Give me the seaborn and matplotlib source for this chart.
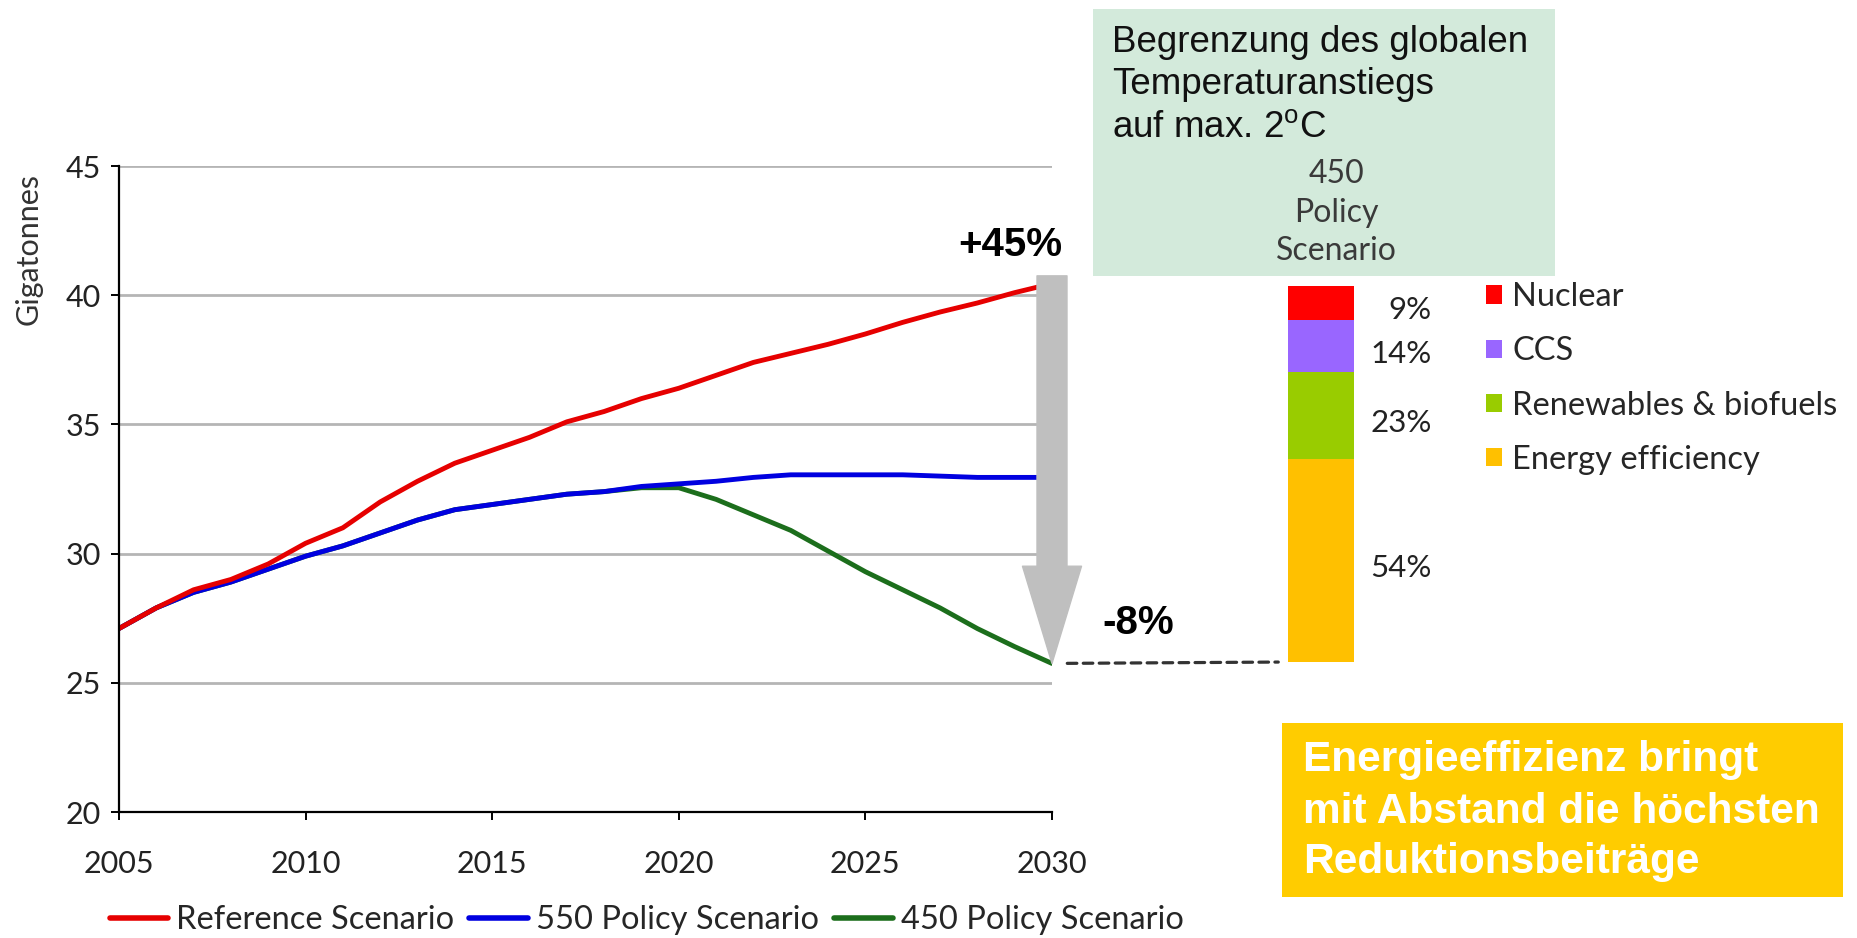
import matplotlib
matplotlib.use("Agg")
import matplotlib.pyplot as plt
from matplotlib.patches import Rectangle, FancyArrowPatch, ConnectionPatch, Patch
import seaborn as sns

# data (Gt CO2)
years = list(range(2005, 2031))
reference = [27.1, 27.9, 28.6, 29.0, 29.6, 30.4, 31.0, 32.0, 32.8, 33.5, 34.0, 34.5, 35.1,
             35.5, 36.0, 36.4, 36.9, 37.4, 37.75, 38.1, 38.5, 38.95, 39.35, 39.7, 40.1, 40.45]
policy_550 = [27.1, 27.9, 28.5, 28.9, 29.4, 29.9, 30.3, 30.8, 31.3, 31.7, 31.9, 32.1, 32.3,
              32.4, 32.6, 32.7, 32.8, 32.95, 33.05, 33.05, 33.05, 33.05, 33.0, 32.95, 32.95, 32.95]
policy_450 = [27.1, 27.9, 28.5, 28.9, 29.4, 29.9, 30.3, 30.8, 31.3, 31.7, 31.9, 32.1, 32.3,
              32.4, 32.55, 32.55, 32.1, 31.5, 30.9, 30.1, 29.3, 28.6, 27.9, 27.1, 26.4, 25.75]
series_names = ["Reference Scenario", "550 Policy Scenario", "450 Policy Scenario"]
series_colors = ["#e60000", "#0000e0", "#1c6e1c"]

# abatement shares in the 450 scenario (bottom -> top)
wedge_names = ["Energy efficiency", "Renewables & biofuels", "CCS", "Nuclear"]
wedge_shares = [54, 23, 14, 9]
wedge_colors = ["#ffc000", "#99cc00", "#9966ff", "#ff0000"]

sns.set_theme(style="white")
plt.rcParams["font.family"] = ["Lato", "DejaVu Sans"]
plt.rcParams["mathtext.fontset"] = "custom"
plt.rcParams["mathtext.rm"] = "Liberation Sans"

fig = plt.figure(figsize=(18.58, 9.38), dpi=100)
ax = fig.add_axes([0.0640, 0.1343, 0.5022, 0.6887])

# 450 first, then 550 on top, reference on top of all
sns.lineplot(x=years, y=policy_450, color=series_colors[2], lw=3.5, label=series_names[2], ax=ax)
sns.lineplot(x=years, y=policy_550, color=series_colors[1], lw=3.5, label=series_names[1], ax=ax)
sns.lineplot(x=years, y=reference, color=series_colors[0], lw=3.5, label=series_names[0], ax=ax)

ax.set_xlim(2005, 2030)
ax.set_ylim(20, 45)
ax.set_xticks(range(2005, 2031, 5))
ax.set_yticks(range(20, 46, 5))
ax.grid(axis="y", color="#b5b5b5", lw=2)
ax.grid(axis="x", visible=False)
for side in ["top", "right"]:
    ax.spines[side].set_visible(False)
for side in ["left", "bottom"]:
    ax.spines[side].set_color("black")
    ax.spines[side].set_linewidth(1.6)
ax.tick_params(axis="y", direction="out", length=6, width=1.4, pad=7, labelsize=22,
               left=True, colors="black", labelcolor="#222222")
ax.tick_params(axis="x", direction="out", length=6, width=1.4, pad=21, labelsize=22,
               bottom=True, colors="black", labelcolor="#222222")
ax.set_xlabel("")
ax.set_ylabel("Gigatonnes", fontsize=22, color="#333333")
ax.yaxis.set_label_coords(-0.082, 0.871)

handles, labels = ax.get_legend_handles_labels()
order = [labels.index(n) for n in series_names]
ax.legend([handles[i] for i in order], [labels[i] for i in order],
          loc="center", bbox_to_anchor=(0.348, 0.019), bbox_transform=fig.transFigure,
          ncol=3, frameon=False, fontsize=23.5, handlelength=1.8, handletextpad=0.25,
          columnspacing=0.45, borderaxespad=0)
for ln in ax.get_legend().get_lines():
    ln.set_linewidth(4)

# stacked bar of the reductions
ax2 = fig.add_axes([1288 / 1858, (938 - 662) / 938, 66 / 1858, 376 / 938])
bottom = 0
for name, share, col in zip(wedge_names, wedge_shares, wedge_colors):
    ax2.bar(0, share, bottom=bottom, width=1.0, color=col, edgecolor="none")
    ax2.text(2.18, bottom + share / 2 - 2, f"{share}%", transform=ax2.get_yaxis_transform(),
             ha="right", va="center", fontsize=22.5, color="#222222")
    bottom += share
ax2.set_xlim(-0.5, 0.5)
ax2.set_ylim(0, sum(wedge_shares))
ax2.axis("off")

leg_handles = [Patch(facecolor=c, edgecolor="none") for c in wedge_colors][::-1]
ax2.legend(leg_handles, wedge_names[::-1], loc="upper left", bbox_to_anchor=(3.0, 1.01),
           frameon=False, fontsize=23.5, handlelength=0.5, handleheight=0.5,
           handletextpad=0.3, labelspacing=0.74, borderpad=0, borderaxespad=0)

# big gray arrow from reference to 450 scenario in 2030
arrow = FancyArrowPatch((2030, reference[-1] + 0.3), (2030, policy_450[-1]),
                        arrowstyle="simple,head_length=70,head_width=42.5,tail_width=21.6",
                        mutation_scale=1, color="#bfbfbf", shrinkA=0, shrinkB=0,
                        transform=ax.transData, clip_on=False, zorder=5)
ax.add_patch(arrow)

# dashed connector to the bar
con = ConnectionPatch(xyA=(2030, policy_450[-1]), coordsA=ax.transData,
                      xyB=(-0.5, 0), coordsB=ax2.transData,
                      linestyle=(0, (3, 2)), lw=2.3, color="#333333",
                      shrinkA=11, shrinkB=7)
fig.add_artist(con)

fig.text(0.5436, 0.7388, "+45%", fontsize=29, fontweight="bold", family="Liberation Sans",
         ha="center", va="center", color="black")
fig.text(0.6125, 0.3358, "-8%", fontsize=29, fontweight="bold", family="Liberation Sans",
         ha="center", va="center", color="black")

# green box
fig.add_artist(Rectangle((1093 / 1858, (938 - 276) / 938), 462 / 1858, 267 / 938,
                         transform=fig.transFigure, facecolor="#d3eadb", edgecolor="none",
                         zorder=0))
for txt, yy in [("Begrenzung des globalen", 0.9542), ("Temperaturanstiegs", 0.9094),
                (r"auf max. 2$^{\mathrm{o}}$C", 0.8635)]:
    fig.text(0.5985, yy, txt, fontsize=26.5, family="Liberation Sans", ha="left", va="center",
             color="#111111")
for txt, yy in [("450", 0.8145), ("Policy", 0.7729), ("Scenario", 0.7324)]:
    fig.text(0.7191, yy, txt, fontsize=23, ha="center", va="center", color="#3a3a3a")

# yellow box
fig.add_artist(Rectangle((1282 / 1858, (938 - 897) / 938), 561 / 1858, 174 / 938,
                         transform=fig.transFigure, facecolor="#ffcc00", edgecolor="none",
                         zorder=0))
for txt, yy in [("Energieeffizienz bringt", 0.1898), ("mit Abstand die höchsten", 0.1343),
                ("Reduktionsbeiträge", 0.0810)]:
    fig.text(0.7013, yy, txt, fontsize=30.5, fontweight="bold", family="Liberation Sans",
             ha="left", va="center", color="white")

fig.savefig("out.png", dpi=100)
